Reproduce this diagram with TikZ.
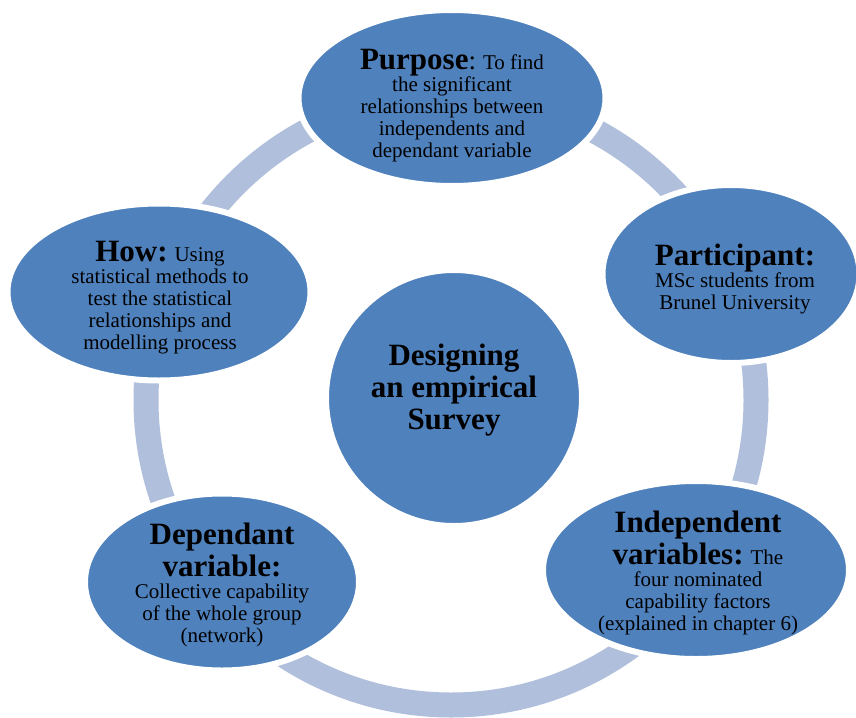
\documentclass[tikz,border=0pt]{standalone}
\usepackage{fontspec}
\setmainfont{Liberation Serif}
\usetikzlibrary{shapes.geometric}
\definecolor{bubble}{HTML}{4F81BD}
\definecolor{ringc}{HTML}{B0BFDC}
\newcommand{\headf}{\fontsize{31}{31}\selectfont\bfseries}
\newcommand{\bodyf}{\fontsize{21}{22}\selectfont}
\tikzset{
  bubbleshape/.style={ellipse, fill=bubble, draw=white, line width=6pt, inner sep=0pt},
  bubbletext/.style={align=center, text=black, font=\bodyf, inner sep=0pt},
  ringline/.style={draw=ringc, line width=25pt}
}
\begin{document}
\begin{tikzpicture}[x=1pt,y=-1pt]
\useasboundingbox (0,0) rectangle (856,717);
\coordinate (ringc) at (451,400);
\draw[ringline] (ringc) circle[radius=305pt];
% ellipses
\node[bubbleshape, minimum width=307pt, minimum height=176pt] (purpose) at (452,98) {};
\node[bubbleshape, minimum width=257pt, minimum height=178pt] (participant) at (731,274) {};
\node[bubbleshape, minimum width=306pt, minimum height=178pt] (independent) at (696,570) {};
\node[bubbleshape, minimum width=274pt, minimum height=177pt] (dependant) at (222,582) {};
\node[bubbleshape, minimum width=303pt, minimum height=177pt] (how) at (159,292) {};
\node[bubbleshape, minimum width=256pt, minimum height=256pt, circle] (centre) at (454,398) {};
% texts
\node[bubbletext] (purposeT) at (452,106) {{\headf Purpose}{\fontsize{27}{27}\selectfont:} To find\\the significant\\relationships between\\independents and\\dependant variable};
\node[bubbletext] (participantT) at (735,279) {{\headf Participant:}\\MSc students from\\Brunel University};
\node[bubbletext] (independentT) at (698,573) {{\headf Independent}\\[2pt]{\headf variables:} The\\four nominated\\capability factors\\(explained in chapter 6)};
\node[bubbletext] (dependantT) at (222,585) {{\headf Dependant}\\[2pt]{\headf variable:}\\Collective capability\\of the whole group\\(network)};
\node[bubbletext] (howT) at (160,298) {{\headf How:} Using\\statistical methods to\\test the statistical\\relationships and\\modelling process};
\node[bubbletext, font=\headf] (centreT) at (454,390) {Designing\\[1pt]an empirical\\[1pt]Survey};
\end{tikzpicture}
\end{document}
